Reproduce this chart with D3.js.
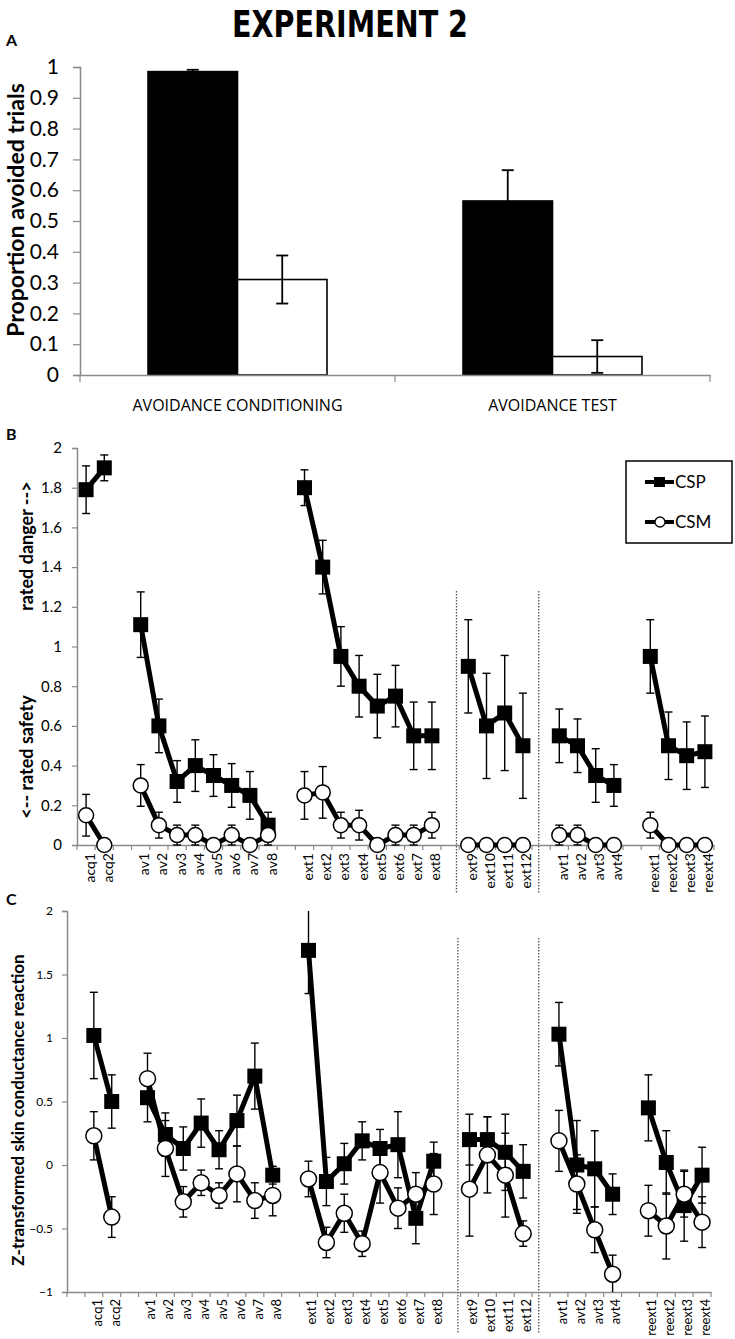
<!DOCTYPE html>
<html>
<head>
<meta charset="utf-8">
<script src="https://cdn.jsdelivr.net/npm/d3@7"></script>
<style>
body { margin: 0; background: #fff; }
text { font-family: Lato, "Open Sans", sans-serif; fill: #000; }
</style>
</head>
<body>
<div id="chart"></div>
<script>
// ---- panel A data
var phasesA = ["AVOIDANCE CONDITIONING", "AVOIDANCE TEST"];
var cspA = [0.985, 0.565];
var cspAErr = [0.006, 0.10];
var csmA = [0.31, 0.06];
var csmAErr = [0.078, 0.053];
var ticksA = [0, 0.1, 0.2, 0.3, 0.4, 0.5, 0.6, 0.7, 0.8, 0.9, 1];

// ---- trial groups used in panels B and C
var groups = [
    ["acq1", "acq2"],
    ["av1", "av2", "av3", "av4", "av5", "av6", "av7", "av8"],
    ["ext1", "ext2", "ext3", "ext4", "ext5", "ext6", "ext7", "ext8"],
    ["ext9", "ext10", "ext11", "ext12"],
    ["avt1", "avt2", "avt3", "avt4"],
    ["reext1", "reext2", "reext3", "reext4"]
];

// ---- panel B: danger / safety ratings
var ratingCsp = [1.79, 1.90,
    1.11, 0.60, 0.32, 0.40, 0.35, 0.30, 0.25, 0.10,
    1.80, 1.40, 0.95, 0.80, 0.70, 0.75, 0.55, 0.55,
    0.90, 0.60, 0.665, 0.50,
    0.55, 0.50, 0.35, 0.30,
    0.95, 0.50, 0.45, 0.47];
var ratingCspErr = [0.12, 0.065,
    0.165, 0.135, 0.105, 0.13, 0.105, 0.11, 0.12, 0.065,
    0.09, 0.135, 0.15, 0.155, 0.16, 0.155, 0.17, 0.17,
    0.235, 0.265, 0.29, 0.265,
    0.135, 0.135, 0.135, 0.105,
    0.185, 0.17, 0.17, 0.18];
var ratingCsm = [0.15, 0,
    0.30, 0.10, 0.05, 0.05, 0, 0.05, 0, 0.05,
    0.25, 0.265, 0.10, 0.10, 0, 0.05, 0.05, 0.10,
    0, 0, 0, 0,
    0.05, 0.05, 0, 0,
    0.10, 0, 0, 0];
var ratingCsmErr = [0.105, 0,
    0.105, 0.065, 0.05, 0.05, 0, 0.05, 0, 0.05,
    0.12, 0.13, 0.065, 0.075, 0, 0.05, 0.05, 0.065,
    0, 0, 0, 0,
    0.05, 0.05, 0, 0,
    0.065, 0, 0, 0];
var ticksB = [0, 0.2, 0.4, 0.6, 0.8, 1, 1.2, 1.4, 1.6, 1.8, 2];

// ---- panel C: skin conductance
var scrCsp = [1.02, 0.50,
    0.53, 0.24, 0.13, 0.33, 0.12, 0.35, 0.70, -0.08,
    1.69, -0.13, 0.01, 0.19, 0.13, 0.16, -0.42, 0.03,
    0.20, 0.20, 0.10, -0.05,
    1.03, 0.00, -0.03, -0.23,
    0.45, 0.02, -0.32, -0.08];
var scrCspErr = [0.34, 0.21,
    0.19, 0.17, 0.17, 0.19, 0.15, 0.20, 0.26, 0.07,
    0.34, 0.19, 0.16, 0.15, 0.15, 0.26, 0.20, 0.15,
    0.20, 0.18, 0.30, 0.21,
    0.25, 0.35, 0.30, 0.16,
    0.26, 0.25, 0.28, 0.22];
var scrCsm = [0.23, -0.41,
    0.68, 0.13, -0.29, -0.14, -0.24, -0.07, -0.28, -0.24,
    -0.11, -0.61, -0.38, -0.62, -0.06, -0.34, -0.23, -0.15,
    -0.19, 0.08, -0.08, -0.54,
    0.19, -0.15, -0.51, -0.86,
    -0.36, -0.48, -0.23, -0.45];
var scrCsmErr = [0.19, 0.16,
    0.20, 0.22, 0.12, 0.10, 0.10, 0.22, 0.14, 0.16,
    0.14, 0.12, 0.15, 0.10, 0.24, 0.16, 0.17, 0.24,
    0.37, 0.30, 0.33, 0.10,
    0.24, 0.23, 0.18, 0.15,
    0.20, 0.26, 0.18, 0.20];
var ticksC = [-1, -0.5, 0, 0.5, 1, 1.5, 2];

var width = 735, height = 1339;
var axisGray = "#8a8a8a";

var svg = d3.select("#chart").append("svg")
    .attr("width", width)
    .attr("height", height);

svg.append("text")
    .attr("x", 350).attr("y", 37)
    .attr("text-anchor", "middle")
    .attr("textLength", 236).attr("lengthAdjust", "spacingAndGlyphs")
    .style("font-family", "'Liberation Sans Narrow', 'DejaVu Sans Condensed', sans-serif")
    .style("font-weight", "bold").style("font-size", "38px")
    .text("EXPERIMENT 2");

[["A", 46], ["B", 440], ["C", 905]].forEach(function(p){
    svg.append("text").attr("x", 6).attr("y", p[1])
        .style("font-weight", "bold").style("font-size", "16px")
        .text(p[0]);
});

function greyAxis(g){
    g.select(".domain").attr("stroke", axisGray).attr("stroke-width", 1.5);
    g.selectAll(".tick line").attr("stroke", axisGray).attr("stroke-width", 1.2);
}

// ================= panel A =================
var xA = d3.scaleBand().domain(phasesA).range([80, 710]);
var xSubA = d3.scaleBand().domain(["CSP", "CSM"])
    .range([0, xA.bandwidth()]).paddingOuter(0.76).paddingInner(0);
var yA = d3.scaleLinear().domain([0, 1]).range([375, 67]);

var barsA = [];
phasesA.forEach(function(p, i){
    barsA.push({phase: p, cs: "CSP", v: cspA[i], e: cspAErr[i]});
    barsA.push({phase: p, cs: "CSM", v: csmA[i], e: csmAErr[i]});
});

svg.selectAll(".barA").data(barsA).enter().append("rect")
    .attr("class", "barA")
    .attr("x", function(d){ return xA(d.phase) + xSubA(d.cs); })
    .attr("y", function(d){ return yA(d.v); })
    .attr("width", xSubA.bandwidth())
    .attr("height", function(d){ return yA(0) - yA(d.v); })
    .attr("fill", function(d){ return d.cs == "CSP" ? "#000" : "#fff"; })
    .attr("stroke", "#000").attr("stroke-width", 1.6);

var errA = svg.selectAll(".errA").data(barsA).enter().append("g").attr("class", "errA")
    .attr("transform", function(d){
        return "translate(" + (xA(d.phase) + xSubA(d.cs) + xSubA.bandwidth() / 2) + ",0)";
    });
errA.append("line")
    .attr("y1", function(d){ return yA(d.v - d.e); })
    .attr("y2", function(d){ return yA(d.v + d.e); })
    .attr("stroke", "#000").attr("stroke-width", 1.8);
errA.selectAll(".cap").data(function(d){ return [d.v - d.e, d.v + d.e]; })
    .enter().append("line")
    .attr("x1", -6).attr("x2", 6)
    .attr("y1", function(v){ return yA(v); }).attr("y2", function(v){ return yA(v); })
    .attr("stroke", "#000").attr("stroke-width", 1.8);

var yAxisA = svg.append("g").attr("transform", "translate(80,0)")
    .call(d3.axisLeft(yA).tickValues(ticksA).tickSize(7).tickPadding(14).tickFormat(d3.format("")));
greyAxis(yAxisA);
yAxisA.selectAll("text").style("font-size", "21px");

var xAxisA = svg.append("g").attr("transform", "translate(0,375)")
    .call(d3.axisBottom(xA).tickSize(0).tickPadding(25));
greyAxis(xAxisA);
xAxisA.selectAll("text").style("font-size", "16px").style("font-family", "'Open Sans', Lato, sans-serif");
var edgesA = phasesA.map(function(p){ return xA(p); }).concat([xA.range()[1]]);
svg.selectAll(".edgeA").data(edgesA).enter().append("line")
    .attr("x1", function(d){ return d; }).attr("x2", function(d){ return d; })
    .attr("y1", 375).attr("y2", 382)
    .attr("stroke", axisGray).attr("stroke-width", 1.2);

svg.append("text")
    .attr("transform", "translate(24,210) rotate(-90)")
    .attr("text-anchor", "middle")
    .style("font-weight", "bold").style("font-size", "23px")
    .text("Proportion avoided trials");

// ================= panels B and C =================
var trials = [].concat.apply([], groups);

function drawTrials(cfg){
    // slot list: one empty slot between groups
    var slots = [];
    for (var k = 0; k < cfg.lead; k++) slots.push("_lead" + k);
    groups.forEach(function(g, gi){
        if (gi > 0) slots.push("_gap" + gi);
        g.forEach(function(t){ slots.push(t); });
    });
    var x = d3.scaleBand().domain(slots).range(cfg.xRange);
    var bw = x.bandwidth();
    var y = d3.scaleLinear().domain(cfg.yDomain).range(cfg.yRange);
    var cx = function(t){ return x(t) + bw / 2; };
    var g = svg.append("g");

    // dotted dividers around ext9-ext12
    [x("ext9") - 0.15 * bw, x("ext12") + 1.37 * bw].forEach(function(dx){
        g.append("line")
            .attr("x1", dx).attr("x2", dx)
            .attr("y1", cfg.divider[0]).attr("y2", cfg.divider[1])
            .attr("stroke", "#555").attr("stroke-width", 1.3)
            .attr("stroke-dasharray", "1.5,1.5");
    });

    // axes
    var yAxis = g.append("g").attr("transform", "translate(" + cfg.xRange[0] + ",0)")
        .call(d3.axisLeft(y).tickValues(cfg.ticks).tickSize(5).tickPadding(cfg.tickPad).tickFormat(d3.format("")));
    greyAxis(yAxis);
    yAxis.selectAll("text").style("font-size", cfg.yFont);

    var base = y(cfg.yDomain[0]);
    var xAxis = g.append("g").attr("transform", "translate(0," + base + ")")
        .call(d3.axisBottom(x).tickSize(0)
            .tickFormat(function(d){ return d.charAt(0) == "_" ? "" : d; }));
    greyAxis(xAxis);
    xAxis.selectAll("text")
        .attr("transform", "rotate(-90)")
        .attr("text-anchor", "end")
        .attr("x", -cfg.labelGap).attr("y", 0).attr("dy", "0.6em")
        .style("font-size", cfg.xFont);
    var edges = slots.map(function(s){ return x(s); }).concat([cfg.xRange[1]]);
    g.selectAll(".edge").data(edges).enter().append("line")
        .attr("x1", function(d){ return d; }).attr("x2", function(d){ return d; })
        .attr("y1", base).attr("y2", base + 5)
        .attr("stroke", axisGray).attr("stroke-width", 1.2);

    // one series: error bars, group lines, markers
    function series(vals, errs, kind){
        var pts = trials.map(function(t, i){ return {t: t, v: vals[i], e: errs[i]}; });
        var eb = g.selectAll(".eb" + kind).data(pts.filter(function(d){ return d.e > 0; }))
            .enter().append("g").attr("class", "eb" + kind);
        eb.append("line")
            .attr("x1", function(d){ return cx(d.t); }).attr("x2", function(d){ return cx(d.t); })
            .attr("y1", function(d){ return y(Math.max(cfg.yDomain[0], d.v - d.e)); })
            .attr("y2", function(d){ return y(Math.min(cfg.yDomain[1], d.v + d.e)); })
            .attr("stroke", "#000").attr("stroke-width", 1.4);
        eb.selectAll(".cap").data(function(d){
                var c = [];
                if (d.v - d.e >= cfg.yDomain[0]) c.push({t: d.t, v: d.v - d.e});
                if (d.v + d.e <= cfg.yDomain[1]) c.push({t: d.t, v: d.v + d.e});
                return c;
            })
            .enter().append("line")
            .attr("x1", function(d){ return cx(d.t) - 4; }).attr("x2", function(d){ return cx(d.t) + 4; })
            .attr("y1", function(d){ return y(d.v); }).attr("y2", function(d){ return y(d.v); })
            .attr("stroke", "#000").attr("stroke-width", 1.4);

        var line = d3.line().x(function(d){ return cx(d.t); }).y(function(d){ return y(d.v); });
        groups.forEach(function(grp){
            var gp = pts.filter(function(d){ return grp.indexOf(d.t) >= 0; });
            g.append("path").attr("d", line(gp))
                .attr("fill", "none").attr("stroke", "#000")
                .attr("stroke-width", 5).attr("stroke-linejoin", "round");
        });

        if (kind == "sq") {
            g.selectAll(".mk" + kind).data(pts).enter().append("rect")
                .attr("x", function(d){ return cx(d.t) - cfg.sq / 2; })
                .attr("y", function(d){ return y(d.v) - cfg.sq / 2; })
                .attr("width", cfg.sq).attr("height", cfg.sq)
                .attr("fill", "#000");
        } else {
            g.selectAll(".mk" + kind).data(pts).enter().append("circle")
                .attr("cx", function(d){ return cx(d.t); })
                .attr("cy", function(d){ return y(d.v); })
                .attr("r", cfg.r)
                .attr("fill", "#fff").attr("stroke", "#000").attr("stroke-width", 1.5);
        }
    }
    series(cfg.csp, cfg.cspErr, "sq");
    series(cfg.csm, cfg.csmErr, "ci");
}

drawTrials({
    lead: 0, xRange: [77, 714], yDomain: [0, 2], yRange: [845, 448],
    ticks: ticksB, tickPad: 10, yFont: "15px", xFont: "14px", labelGap: 8,
    divider: [591, 894], sq: 15, r: 7.5,
    csp: ratingCsp, cspErr: ratingCspErr, csm: ratingCsm, csmErr: ratingCsmErr
});

drawTrials({
    lead: 1, xRange: [67, 711], yDomain: [-1, 2], yRange: [1292, 911],
    ticks: ticksC, tickPad: 9, yFont: "12px", xFont: "13px", labelGap: 7,
    divider: [938, 1333], sq: 15, r: 8,
    csp: scrCsp, cspErr: scrCspErr, csm: scrCsm, csmErr: scrCsmErr
});

// panel B axis titles
svg.append("text")
    .attr("transform", "translate(33,546) rotate(-90)")
    .attr("text-anchor", "middle")
    .style("font-weight", "bold").style("font-size", "18px")
    .text("rated danger -->");
svg.append("text")
    .attr("transform", "translate(33,757) rotate(-90)")
    .attr("text-anchor", "middle")
    .style("font-weight", "bold").style("font-size", "18px")
    .text("<-- rated safety");

// panel C axis title
svg.append("text")
    .attr("transform", "translate(24,1110) rotate(-90)")
    .attr("text-anchor", "middle")
    .style("font-weight", "bold").style("font-size", "17px")
    .text("Z-transformed skin conductance reaction");

// legend
var legendItems = ["CSP", "CSM"];
var legend = svg.append("g").attr("transform", "translate(626,461)");
legend.append("rect").attr("width", 106).attr("height", 82)
    .attr("fill", "#fff").attr("stroke", "#000").attr("stroke-width", 1.5);
var li = legend.selectAll(".li").data(legendItems).enter().append("g")
    .attr("transform", function(d, i){ return "translate(0," + (21 + i * 40) + ")"; });
li.append("line").attr("x1", 19).attr("x2", 48)
    .attr("stroke", "#000").attr("stroke-width", 4);
li.each(function(d){
    var s = d3.select(this);
    if (d == "CSP") s.append("rect").attr("x", 28).attr("y", -5).attr("width", 11).attr("height", 10).attr("fill", "#000");
    else s.append("circle").attr("cx", 34).attr("r", 5).attr("fill", "#fff").attr("stroke", "#000").attr("stroke-width", 1.3);
});
li.append("text").attr("x", 49).attr("dy", "0.36em")
    .style("font-size", "17px")
    .text(function(d){ return d; });
</script>
</body>
</html>
